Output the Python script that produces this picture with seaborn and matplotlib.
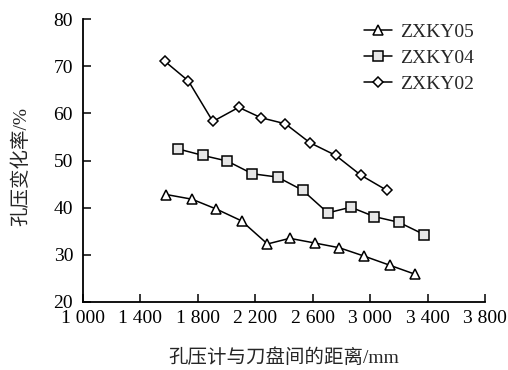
import matplotlib
matplotlib.use("Agg")
import matplotlib.pyplot as plt
import matplotlib.ticker as mticker
import seaborn as sns

# data
x_05 = [1580, 1760, 1930, 2105, 2285, 2440, 2615, 2785, 2960, 3135, 3310]
y_05 = [42.8, 41.8, 39.7, 37.2, 32.3, 33.5, 32.5, 31.5, 29.7, 27.8, 25.9]

x_04 = [1660, 1835, 2005, 2180, 2355, 2530, 2705, 2865, 3030, 3200, 3375]
y_04 = [52.5, 51.1, 49.9, 47.2, 46.5, 43.7, 38.9, 40.1, 38.1, 36.9, 34.3]

x_02 = [1570, 1735, 1905, 2085, 2240, 2410, 2580, 2760, 2935, 3115]
y_02 = [71.1, 66.9, 58.3, 61.3, 59.1, 57.8, 53.8, 51.1, 46.9, 43.7]

x_ticks = [1000, 1400, 1800, 2200, 2600, 3000, 3400, 3800]
y_ticks = [20, 30, 40, 50, 60, 70, 80]

sns.set_style("ticks")
plt.rcParams['font.family'] = ['Liberation Serif', 'Noto Sans CJK SC']
plt.rcParams['font.size'] = 14

fig = plt.figure(figsize=(5.08, 3.70), dpi=100)
ax = fig.add_axes([0.163, 0.184, 0.792, 0.764])

series = [
    ("ZXKY05", x_05, y_05, "^", "white", 7),
    ("ZXKY04", x_04, y_04, "s", "#e6e6e6", 7),
    ("ZXKY02", x_02, y_02, "D", "white", 5.5),
]
for name, xs, ys, mk, fc, ms in series:
    sns.lineplot(x=xs, y=ys, ax=ax, color="black", linewidth=1.1,
                 marker=mk, markersize=ms, markerfacecolor=fc,
                 markeredgecolor="black", markeredgewidth=1.1, label=name)

ax.set_xlim(1000, 3800)
ax.set_ylim(20, 80)
ax.set_xticks(x_ticks)
ax.set_yticks(y_ticks)
ax.xaxis.set_major_formatter(mticker.FuncFormatter(
    lambda v, p: f"{int(v):,}".replace(",", " ")))

for s in ["top", "right"]:
    ax.spines[s].set_visible(False)
for s in ["left", "bottom"]:
    ax.spines[s].set_linewidth(1.3)
    ax.spines[s].set_color("black")
ax.tick_params(axis="both", direction="in", length=5.5, width=1.1,
               colors="black", labelsize=14)
ax.tick_params(axis="x", pad=6)
ax.tick_params(axis="y", pad=7)

ax.set_xlabel("孔压计与刀盘间的距离/mm", fontsize=14)
ax.set_ylabel("孔压变化率/%", fontsize=14)
ax.xaxis.set_label_coords(0.5, -0.165)
ax.yaxis.set_label_coords(-0.13, 0.48)

ax.legend(loc="upper left", bbox_to_anchor=(0.70, 0.985), frameon=False,
          fontsize=14, handlelength=1.4, handletextpad=0.45,
          labelspacing=0.42, borderaxespad=0, borderpad=0)

fig.savefig("out.png", dpi=100)
